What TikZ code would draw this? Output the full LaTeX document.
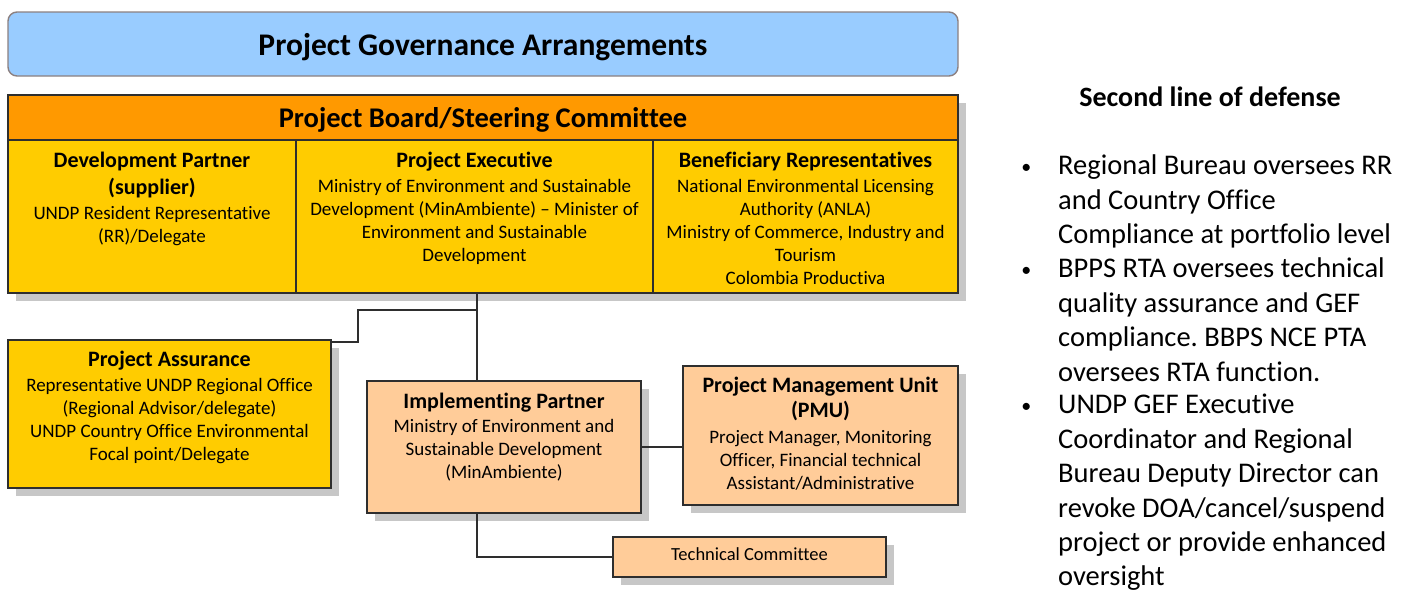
\documentclass[tikz,border=0pt]{standalone}
\usepackage{fontspec}
\setmainfont{Carlito}[Ligatures=NoCommon]
\usetikzlibrary{positioning,shadows}

\definecolor{govblue}{HTML}{99CCFF}
\definecolor{govedge}{HTML}{8C8080}
\definecolor{boardorange}{HTML}{FF9900}
\definecolor{boardyellow}{HTML}{FFCC00}
\definecolor{unitpeach}{HTML}{FFCC99}
\definecolor{edgegray}{HTML}{2E2E2E}

\newcommand{\hd}[1]{{\fontsize{22}{26}\selectfont\bfseries #1}}
\newcommand{\bul}{\llap{\raisebox{1pt}{\fontsize{20}{20}\selectfont\textbullet}\hspace{27pt}}}

\frenchspacing
\begin{document}
\begin{tikzpicture}[
  x=1pt, y=-1pt,
  box/.style={draw=edgegray, line width=1.8pt, inner sep=0pt,
    drop shadow={shadow xshift=8pt, shadow yshift=-8pt, fill=black!22, opacity=1}},
  ybox/.style={box, fill=boardyellow},
  pbox/.style={box, fill=unitpeach},
  btxt/.style={align=center, inner sep=0pt, anchor=north, font=\fontsize{19}{23}\selectfont},
  bullets/.style={align=left, inner sep=0pt, anchor=north west, font=\fontsize{28.5}{34.4}\selectfont},
  link/.style={-, draw=edgegray, line width=1.8pt}
  ]

\useasboundingbox (0,0) rectangle (1418,592);

% title bar
\node [draw=govedge, fill=govblue, rounded corners=9pt, line width=1.4pt,
  minimum width=950pt, minimum height=64pt, text height=26pt, text depth=3.4pt,
  font=\fontsize{31.5}{36}\selectfont\bfseries] (gov) at (483,44) {Project Governance Arrangements};

% board with its three columns
\node [ybox, minimum width=950pt, minimum height=198pt] (board) at (483,194) {};
\node [draw=edgegray, fill=boardorange, line width=1.8pt, minimum width=950pt, minimum height=45pt,
  text height=23pt, text depth=4pt, inner sep=0pt,
  anchor=north, font=\fontsize{28.5}{32}\selectfont\bfseries] (boardhead) at (board.north) {Project Board/Steering Committee};
\draw [link] (296,140) -- (296,293);
\draw [link] (653,140) -- (653,293);

\node [btxt] (devp) at (152,152) {\hd{Development Partner}\\[4pt]\hd{(supplier)}\\[2pt]UNDP Resident Representative\\(RR)/Delegate};
\node [btxt] (exec) at (474.5,152) {\hd{Project Executive}\\[2pt]Ministry of Environment and Sustainable\\Development (MinAmbiente) -- Minister of\\Environment and Sustainable\\Development};
\node [btxt] (benef) at (805.5,152) {\hd{Beneficiary Representatives}\\[2pt]National Environmental Licensing\\Authority (ANLA)\\Ministry of Commerce, Industry and\\Tourism\\Colombia Productiva};

% lower boxes
\node [ybox, minimum width=323pt, minimum height=148pt] (pa) at (169.5,414) {};
\node [btxt, below=12pt of pa.north] (patext) {\hd{Project Assurance}\\[2pt]Representative UNDP Regional Office\\(Regional Advisor/delegate)\\UNDP Country Office Environmental\\Focal point/Delegate};

\node [pbox, minimum width=274pt, minimum height=132pt] (ip) at (504,447) {};
\node [btxt, below=13pt of ip.north] (iptext) {\hd{Implementing Partner}\\[1pt]Ministry of Environment and\\Sustainable Development\\(MinAmbiente)};

\node [pbox, minimum width=275pt, minimum height=139pt] (pmu) at (820.5,435.5) {};
\node [btxt, below=12pt of pmu.north] (pmutext) {\hd{Project Management Unit}\\[2pt]\hd{(PMU)}\\[3pt]Project Manager, Monitoring\\Officer, Financial technical\\Assistant/Administrative};

\node [pbox, minimum width=273pt, minimum height=40pt, text height=13.5pt, text depth=6pt,
  font=\fontsize{18.5}{22}\selectfont] (tc) at (749.5,557) {Technical Committee};

% connectors
\coordinate (spine) at (477,0);
\coordinate (fork) at (477,310);
\coordinate (bend) at (358,342);
\draw [link] (board.south -| spine) -- (ip.north -| spine);
\draw [link] (fork) -| (bend) -- (bend -| pa.east);
\draw [link] (ip.east) -- (ip.east -| pmu.west);
\draw [link] (ip.south -| spine) |- (tc.west);

% second line of defense
\node [font=\fontsize{28}{32}\selectfont\bfseries] (defense) at (1210,97) {Second line of defense};
\node [bullets] (rb) at (1058,155) {\bul Regional Bureau oversees RR\\and Country Office\\Compliance at portfolio level};
\node [bullets] (bpps) at (1058,258) {\bul BPPS RTA oversees technical\\quality assurance and GEF\\compliance. BBPS NCE PTA\\oversees RTA function.};
\node [bullets] (gef) at (1058,394) {\bul UNDP GEF Executive\\Coordinator and Regional\\Bureau Deputy Director can\\revoke DOA/cancel/suspend\\project or provide enhanced\\oversight};

\end{tikzpicture}
\end{document}
